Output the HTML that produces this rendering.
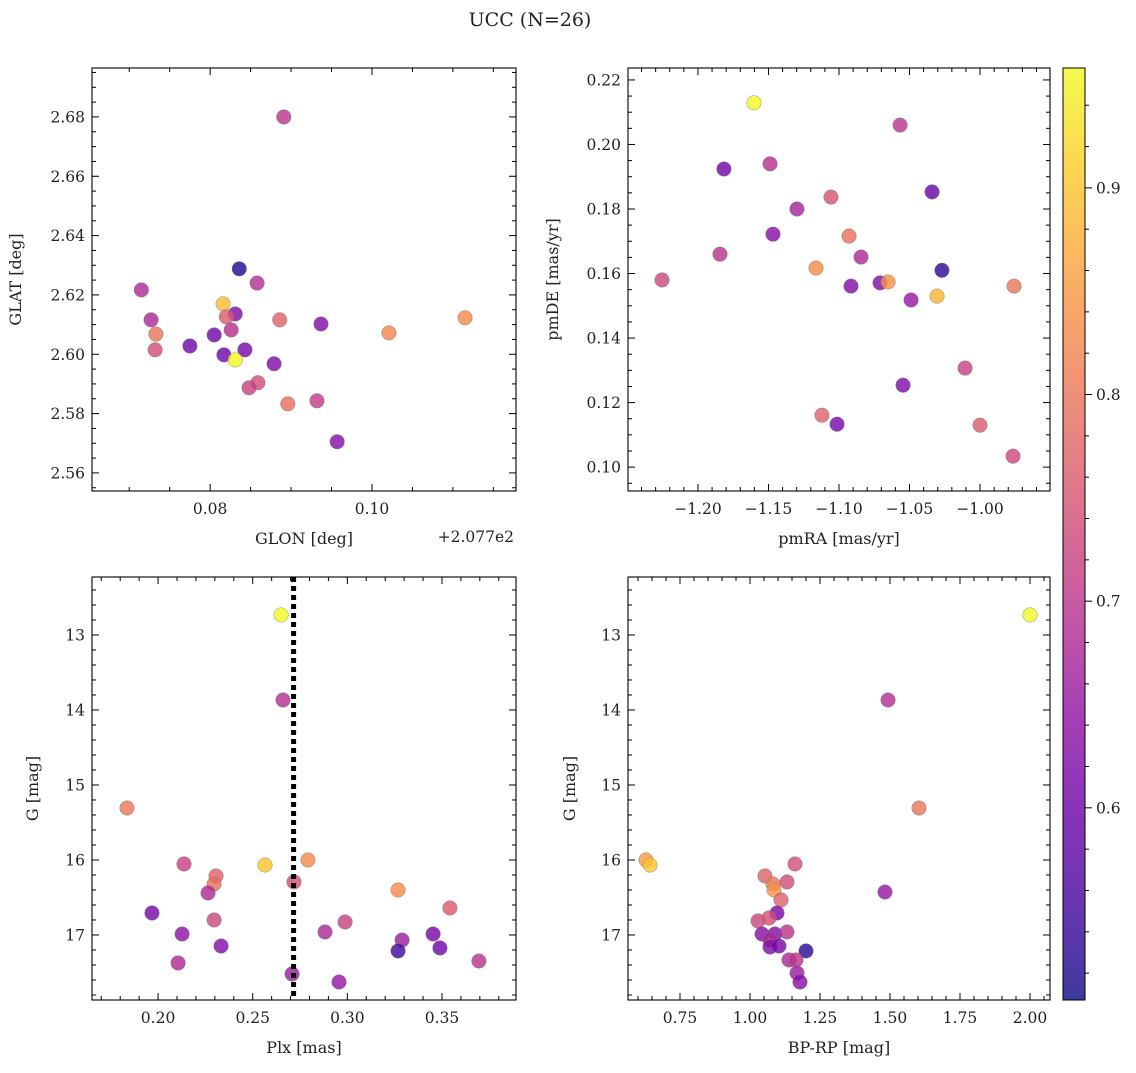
<!DOCTYPE html>
<html><head><meta charset="utf-8"><style>
html,body{margin:0;padding:0;background:#fff;}
svg text{font-family:"DejaVu Serif","Liberation Serif",serif;fill:#222;}
</style></head><body>
<svg id="fig" width="1136" height="1068" xmlns="http://www.w3.org/2000/svg">
<text x="530" y="26" font-size="19" text-anchor="middle">UCC (N=26)</text>
</svg>
<script>
// Panel 1 data (GLON offset from 207.7, GLAT)
const glon=[0.0891,0.0836,0.0858,0.0715,0.0816,0.0831,0.0820,0.0886,0.0727,0.0937,0.1115,0.1021,0.0826,0.0733,0.0805,0.0775,0.0732,0.0843,0.0817,0.0831,0.0879,0.0859,0.0848,0.0932,0.0896,0.0957];
const glat=[2.680,2.6288,2.6240,2.6217,2.6170,2.6136,2.6126,2.6116,2.6116,2.6102,2.6123,2.6072,2.6082,2.6068,2.6065,2.6028,2.6015,2.6015,2.5998,2.5981,2.5968,2.5904,2.5887,2.5843,2.5833,2.5705];
const prob1=[0.70,0.52,0.69,0.68,0.89,0.62,0.76,0.77,0.68,0.62,0.83,0.82,0.69,0.80,0.60,0.60,0.74,0.61,0.60,0.96,0.62,0.74,0.72,0.71,0.79,0.63];
// Panel 2 data
const pmra=[-1.1603,-1.0567,-1.1816,-1.1489,-1.0340,-1.1057,-1.1298,-1.1468,-1.0929,-1.1844,-1.0844,-1.1163,-1.0270,-1.2255,-1.0709,-1.0652,-1.0915,-0.9759,-1.0305,-1.0489,-1.0106,-1.0546,-1.1121,-1.1014,-1.0000,-0.9766];
const pmde=[0.2129,0.2060,0.1924,0.1940,0.1853,0.1837,0.1800,0.1722,0.1716,0.1660,0.1651,0.1617,0.1610,0.1580,0.1571,0.1574,0.1561,0.1561,0.1530,0.1518,0.1307,0.1254,0.1161,0.1133,0.1130,0.1034];
const prob2=[0.96,0.70,0.60,0.69,0.59,0.75,0.67,0.63,0.79,0.70,0.68,0.83,0.53,0.73,0.62,0.84,0.62,0.80,0.88,0.65,0.72,0.62,0.77,0.61,0.76,0.73];
// Panel 3 data
const plx=[0.2650,0.2660,0.1836,0.2792,0.2565,0.2137,0.2306,0.2296,0.2718,0.3268,0.2264,0.3542,0.1968,0.2296,0.2988,0.2882,0.2127,0.3453,0.3289,0.2333,0.3489,0.3268,0.2106,0.3695,0.2708,0.2956];
const gmag3=[12.733,13.867,15.307,16.000,16.067,16.053,16.213,16.320,16.293,16.400,16.440,16.640,16.707,16.800,16.827,16.960,16.987,16.987,17.067,17.147,17.173,17.213,17.373,17.347,17.520,17.627];
const prob3=[0.96,0.69,0.80,0.83,0.90,0.72,0.77,0.79,0.74,0.83,0.68,0.76,0.61,0.73,0.72,0.68,0.64,0.61,0.66,0.62,0.60,0.55,0.68,0.70,0.66,0.65];
const plxLine=[0.2716];
// Panel 4 data
const bprp=[2.000,1.4929,1.6036,0.6286,0.6429,1.1607,1.0536,1.0821,1.1321,1.0857,1.4821,1.1107,1.0964,1.0286,1.0679,1.0429,1.0893,1.1321,1.0714,1.0714,1.1036,1.2000,1.1393,1.1643,1.1679,1.1786];
const gmag4=[12.733,13.867,15.307,16.000,16.067,16.053,16.213,16.320,16.293,16.400,16.427,16.533,16.707,16.813,16.773,16.987,16.987,16.960,17.067,17.160,17.147,17.213,17.333,17.333,17.507,17.627];
const prob4=[0.96,0.69,0.80,0.85,0.90,0.74,0.77,0.80,0.74,0.84,0.65,0.77,0.61,0.73,0.74,0.63,0.62,0.70,0.68,0.62,0.61,0.53,0.68,0.70,0.66,0.63];
// ticks
const ticks1x=[0.08,0.10], ticks1xLab=["0.08","0.10"];
const ticks1y=[2.56,2.58,2.60,2.62,2.64,2.66,2.68];
const ticks2x=[-1.20,-1.15,-1.10,-1.05,-1.00];
const ticks2y=[0.10,0.12,0.14,0.16,0.18,0.20,0.22];
const ticks3x=[0.20,0.25,0.30,0.35];
const ticksGy=[13,14,15,16,17];
const ticks4x=[0.75,1.00,1.25,1.50,1.75,2.00];
const ticksCb=[0.6,0.7,0.8,0.9];
const cmin=0.507,cmax=0.958;

const NS="http://www.w3.org/2000/svg";
const svg=document.getElementById('fig');
function mk(tag,attrs,parent){const e=document.createElementNS(NS,tag);for(const k in attrs)e.setAttribute(k,attrs[k]);(parent||svg).appendChild(e);return e;}
const stops=["#0d0887","#41049d","#6a00a8","#8f0da4","#b12a90","#cc4778","#e16462","#f2844b","#fca636","#fcce25","#f0f921"];
function hex(h){return [1,3,5].map(i=>parseInt(h.substr(i,2),16));}
function plasma(t){t=Math.max(0,Math.min(1,t));const f=t*10,i=Math.min(9,Math.floor(f)),u=f-i;const a=hex(stops[i]),b=hex(stops[i+1]);return 'rgb('+a.map((v,k)=>Math.round(v+(b[k]-v)*u)).join(',')+')';}
function cmap(v){return plasma((v-cmin)/(cmax-cmin));}

function panel(name,box,xd,yd,xt,xlab,yt,ylab,xminor,yminor,xs,ys,cs,xtitle,ytitle,ytx){
  const [L,T,R,B]=box;
  const g=mk('g',{});
  
  
  const sx=v=>L+(v-xd[0])/(xd[1]-xd[0])*(R-L);
  const sy=v=>T+(v-yd[0])/(yd[1]-yd[0])*(B-T);
  for(let i=0;i<xs.length;i++){
    const c=mk('circle',{cx:sx(xs[i]),cy:sy(ys[i]),r:7.3,fill:cmap(cs[i]),'fill-opacity':0.8,stroke:'#777','stroke-width':0.4},g);
    
    
  }
  const fr=mk('rect',{x:L,y:T,width:R-L,height:B-T,fill:'none',stroke:'#000','stroke-width':1.1},g);
  
  
  const xlo=Math.min(xd[0],xd[1]),xhi=Math.max(xd[0],xd[1]);
  const base=xt[0];
  for(let k=-200;k<200;k++){const v=base+k*xminor;if(v<xlo-1e-9||v>xhi+1e-9)continue;const x=sx(v);const maj=Math.abs(Math.round(k*xminor/(xt[1]-xt[0]))*(xt[1]-xt[0])-k*xminor)<1e-9;const len=maj?7:4;
    mk('line',{x1:x,x2:x,y1:B,y2:B-len,stroke:'#000','stroke-width':1},g);mk('line',{x1:x,x2:x,y1:T,y2:T+len,stroke:'#000','stroke-width':1},g);}
  xt.forEach((v,i)=>{const t=mk('text',{x:sx(v),y:B+23,'font-size':15.5,'text-anchor':'middle'},g);t.textContent=xlab[i];});
  const ylo=Math.min(yd[0],yd[1]),yhi=Math.max(yd[0],yd[1]);
  const yb=yt[0],ys_=yt[1]-yt[0];
  for(let k=-200;k<200;k++){const v=yb+k*yminor;if(v<ylo-1e-9||v>yhi+1e-9)continue;const y=sy(v);const maj=Math.abs(Math.round(k*yminor/ys_)*ys_-k*yminor)<1e-9;const len=maj?7:4;
    mk('line',{x1:L,x2:L+len,y1:y,y2:y,stroke:'#000','stroke-width':1},g);mk('line',{x1:R,x2:R-len,y1:y,y2:y,stroke:'#000','stroke-width':1},g);}
  yt.forEach((v,i)=>{const t=mk('text',{x:L-7,y:sy(v)+5.5,'font-size':15.5,'text-anchor':'end'},g);t.textContent=ylab[i];});
  const xtt=mk('text',{x:(L+R)/2,y:B+53,'font-size':16,'text-anchor':'middle'},g);xtt.textContent=xtitle;
  
  const ytt=mk('text',{x:ytx,y:(T+B)/2,'font-size':16,'text-anchor':'middle',transform:'rotate(-90 '+ytx+' '+(T+B)/2+')'},g);ytt.textContent=ytitle;
  
  return {sx,sy,g};
}
const f2=v=>v.toFixed(2);
panel('panel-glon-glat',[92,68,516,491],[0.0654,0.1178],[2.6965,2.5539],ticks1x,ticks1xLab,ticks1y,ticks1y.map(f2),0.005,0.005,glon,glat,prob1,'GLON [deg]','GLAT [deg]',21);
const off=mk('text',{x:514,y:542,'font-size':15.5,'text-anchor':'end'});off.textContent='+2.077e2';

panel('panel-pm',[628,68,1050,491],[-1.2496,-0.9504],[0.2237,0.0926],ticks2x,ticks2x.map(f2).map(s=>s.replace('-','\u2212')),ticks2y,ticks2y.map(f2),0.01,0.005,pmra,pmde,prob2,'pmRA [mas/yr]','pmDE [mas/yr]',558);
const p3=panel('panel-plx-g',[92,577,516,1000],[0.1651,0.3891],[12.227,17.867],ticks3x,ticks3x.map(f2),ticksGy,ticksGy.map(String),0.01,0.2,plx,gmag3,prob3,'Plx [mas]','G [mag]',38);
const dl=mk('line',{x1:p3.sx(plxLine[0]),x2:p3.sx(plxLine[0]),y1:577,y2:1000,stroke:'#000','stroke-width':5,'stroke-dasharray':'5,4'});

panel('panel-cmd',[628,577,1050,1000],[0.5643,2.0714],[12.227,17.867],ticks4x,ticks4x.map(f2),ticksGy,ticksGy.map(String),0.05,0.2,bprp,gmag4,prob4,'BP-RP [mag]','G [mag]',575);
const cb=mk('g',{});
const defs=mk('defs',{},cb);const lg=mk('linearGradient',{id:'cbg',x1:0,y1:1,x2:0,y2:0},defs);
for(let i=0;i<=20;i++){mk('stop',{offset:i/20,'stop-color':plasma(i/20)},lg);}
mk('rect',{x:1063,y:68,width:22,height:932,fill:'url(#cbg)','fill-opacity':0.8,stroke:'#000','stroke-width':1},cb);
const cy=v=>1000-(v-cmin)/(cmax-cmin)*932;
for(let k=-5;k<20;k++){const v=0.6+k*0.02;if(v<cmin||v>cmax)continue;const maj=k%5===0;mk('line',{x1:1085,x2:1085+(maj?7:4),y1:cy(v),y2:cy(v),stroke:'#000','stroke-width':1},cb);}
ticksCb.forEach(v=>{const t=mk('text',{x:1096,y:cy(v)+5.5,'font-size':15.5},cb);t.textContent=v.toFixed(1);});
</script>
</body></html>
